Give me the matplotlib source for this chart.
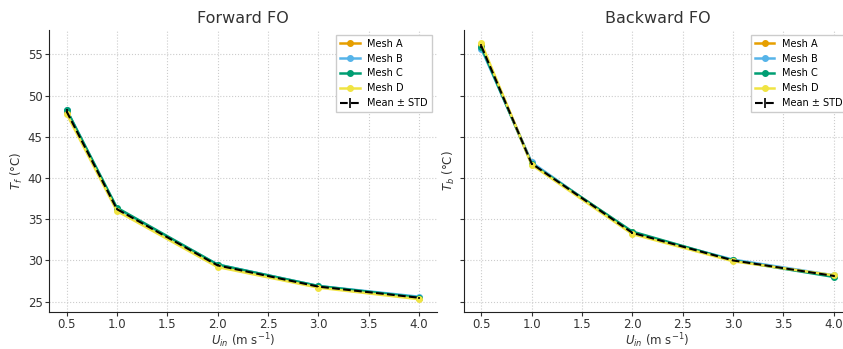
import matplotlib.pyplot as plt
import numpy as np

u_in = [0.5, 1.0, 2.0, 3.0, 4.0]
meshes = ['Mesh A', 'Mesh B', 'Mesh C', 'Mesh D']
colors = ['#E69F00', '#56B4E9', '#009E73', '#F0E442']

# forward flow outlet temperature per mesh
tf_a = [48.0, 36.3, 29.4, 26.8, 25.5]
tf_b = [48.3, 36.2, 29.5, 26.9, 25.6]
tf_c = [48.3, 36.4, 29.5, 26.9, 25.5]
tf_d = [47.8, 36.0, 29.2, 26.7, 25.3]

# backward flow outlet temperature per mesh
tb_a = [56.1, 41.8, 33.4, 30.0, 28.1]
tb_b = [55.7, 41.9, 33.3, 30.1, 28.2]
tb_c = [55.9, 41.7, 33.5, 30.0, 28.0]
tb_d = [56.4, 41.6, 33.2, 29.9, 28.2]

panels = [
    ('Forward FO', r'$T_f$ (°C)', [tf_a, tf_b, tf_c, tf_d]),
    ('Backward FO', r'$T_b$ (°C)', [tb_a, tb_b, tb_c, tb_d]),
]

if __name__ == '__main__':
    fig = plt.figure(figsize=(8.43, 3.49), dpi=100)
    ax1 = fig.add_axes([0.058, 0.106, 0.460, 0.808])
    ax2 = fig.add_axes([0.550, 0.106, 0.460, 0.808], sharey=ax1)

    for ax, (title, ylabel, series) in zip([ax1, ax2], panels):
        for name, vals, c in zip(meshes, series, colors):
            ax.plot(u_in, vals, color=c, marker='o', markersize=4, linewidth=1.8, label=name)
        data = np.array(series)
        mean = data.mean(axis=0)
        std = data.std(axis=0)
        ax.errorbar(u_in, mean, yerr=std, color='black', linestyle='--', linewidth=1.5,
                    elinewidth=1.2, capsize=0, label='Mean ± STD', zorder=5)

        ax.set_title(title, fontsize=11.5, color='#333333', pad=5)
        ax.set_xlabel(r'$U_{in}$ (m s$^{-1}$)', fontsize=8.5, labelpad=0, color='#333333')
        ax.set_ylabel(ylabel, fontsize=8.5, labelpad=2, color='#333333')
        ax.set_xticks([0.5, 1.0, 1.5, 2.0, 2.5, 3.0, 3.5, 4.0])
        ax.set_yticks([25, 30, 35, 40, 45, 50, 55])
        ax.tick_params(labelsize=8.5, length=3, pad=1.5, color='#333333', labelcolor='#333333')
        ax.grid(True, linestyle=':', color='#cccccc', linewidth=0.8)
        for s in ['top', 'right']:
            ax.spines[s].set_visible(False)
        for s in ['left', 'bottom']:
            ax.spines[s].set_color('#222222')
        ax.legend(loc='upper right', fontsize=7, framealpha=1, edgecolor='#cccccc',
                  fancybox=False, handlelength=2.0)

    plt.setp(ax2.get_yticklabels(), visible=False)

    plt.savefig('out.png', dpi=100)
